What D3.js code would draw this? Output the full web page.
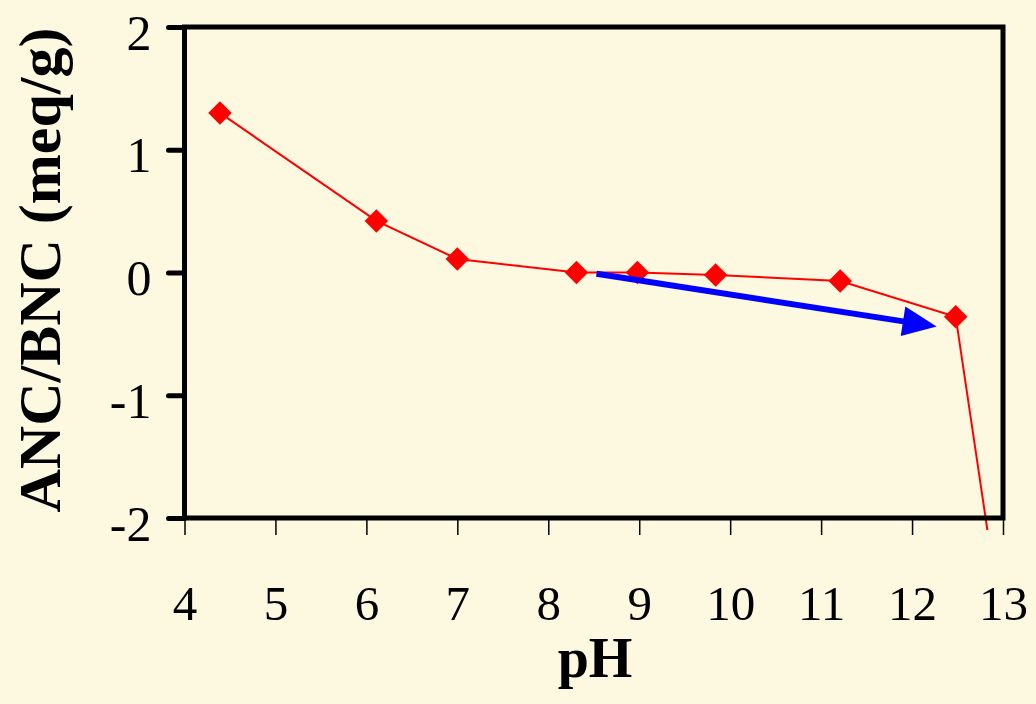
<!DOCTYPE html>
<html>
<head>
<meta charset="utf-8">
<script src="https://cdn.jsdelivr.net/npm/d3@7"></script>
<style>
  body { margin: 0; background: #fdf8e0; }
  text { font-family: "Liberation Serif", "Times New Roman", serif; }
</style>
</head>
<body>
<div id="chart-area"></div>
<script>
// data
var phValues  = [4.39, 6.11, 7.0, 8.31, 8.98, 9.84, 11.21, 12.48];
var ancValues = [1.30, 0.42, 0.11, 0.0, 0.0, -0.02, -0.07, -0.36];
// the curve keeps going down out of the frame, no marker shown there
var tailPoint = [13.2, -3.95];
var xTicks = [4, 5, 6, 7, 8, 9, 10, 11, 12, 13];
var yTicks = [2, 1, 0, -1, -2];
// blue arrow, in data units: start and tip
var arrowFrom = [8.53, -0.01];
var arrowTo   = [12.27, -0.44];

var W = 1036, H = 704;
var margin = { top: 27, bottom: 186, left: 184.5, right: 33 };
var width = W - margin.left - margin.right;
var height = H - margin.top - margin.bottom;

var svg = d3.select("#chart-area").append("svg")
    .attr("width", W)
    .attr("height", H);

svg.append("rect")
    .attr("width", W).attr("height", H)
    .attr("fill", "#fdf8e0");

var g = svg.append("g")
    .attr("transform", "translate(" + margin.left + " " + margin.top + ")");

var x = d3.scaleLinear().domain([4, 13]).range([0, width]);
var y = d3.scaleLinear().domain([-2, 2]).range([height, 0]);

// plain hyphen for negatives, like the original
var fmt = function(d) { return String(d); };

// x ticks (thin, below the frame)
var xAxis = g.append("g")
    .attr("transform", "translate(0 " + height + ")")
    .call(d3.axisBottom(x).tickValues(xTicks).tickSize(17).tickPadding(0).tickFormat(fmt));
xAxis.select(".domain").remove();
xAxis.selectAll(".tick line").attr("stroke", "#000").attr("stroke-width", 1.5);
xAxis.selectAll(".tick text")
    .attr("y", 102)
    .attr("dy", null)
    .attr("fill", "#000")
    .style("font-size", "49px")
    .style("font-family", "'Liberation Serif', serif");

// y ticks (thick)
var yAxis = g.append("g")
    .call(d3.axisLeft(y).tickValues(yTicks).tickSize(16).tickPadding(17).tickFormat(fmt));
yAxis.select(".domain").remove();
yAxis.selectAll(".tick line")
    .attr("stroke", "#000").attr("stroke-width", 5).attr("stroke-linecap", "round");
yAxis.selectAll(".tick text")
    .attr("dy", null)
    .attr("y", 22)
    .attr("fill", "#000")
    .style("font-size", "50px")
    .style("font-family", "'Liberation Serif', serif");

// the curve, clipped a little below the frame
svg.append("clipPath").attr("id", "clip")
    .append("rect")
    .attr("x", 0).attr("y", -10)
    .attr("width", width).attr("height", height + 22);

var pts = phValues.map(function(d, i) { return [d, ancValues[i]]; });
var line = d3.line()
    .x(function(d) { return x(d[0]); })
    .y(function(d) { return y(d[1]); });

g.append("path")
    .datum(pts.concat([tailPoint]))
    .attr("clip-path", "url(#clip)")
    .attr("fill", "none")
    .attr("stroke", "#ff0000")
    .attr("stroke-width", 2)
    .attr("d", line);

// frame
g.append("rect")
    .attr("width", width).attr("height", height)
    .attr("fill", "none")
    .attr("stroke", "#000")
    .attr("stroke-width", 5);

// markers
g.selectAll(".pt")
    .data(pts).enter()
    .append("rect")
        .attr("class", "pt")
        .attr("x", -8.3).attr("y", -8.3)
        .attr("width", 16.6).attr("height", 16.6)
        .attr("fill", "#ff0000")
        .attr("transform", function(d) {
            return "translate(" + x(d[0]) + " " + y(d[1]) + ") rotate(45)";
        });

// blue arrow
var ax0 = x(arrowFrom[0]), ay0 = y(arrowFrom[1]);
var ax1 = x(arrowTo[0]), ay1 = y(arrowTo[1]);
var ang = Math.atan2(ay1 - ay0, ax1 - ax0);
var len = Math.sqrt((ax1 - ax0) * (ax1 - ax0) + (ay1 - ay0) * (ay1 - ay0));
var headLen = 34, headHalf = 15;
var arrow = g.append("g")
    .attr("transform", "translate(" + ax0 + " " + ay0 + ") rotate(" + (ang * 180 / Math.PI) + ")");
arrow.append("line")
    .attr("x1", 0).attr("y1", 0)
    .attr("x2", len - headLen + 2).attr("y2", 0)
    .attr("stroke", "#0000ff")
    .attr("stroke-width", 6);
arrow.append("path")
    .attr("d", "M" + len + ",0L" + (len - headLen) + "," + (-headHalf) + "L" + (len - headLen) + "," + headHalf + "Z")
    .attr("fill", "#0000ff");

// axis titles
svg.append("text")
    .attr("x", 595)
    .attr("y", 677)
    .attr("text-anchor", "middle")
    .style("font-size", "56px")
    .attr("font-weight", "bold")
    .text("pH");

svg.append("text")
    .attr("transform", "translate(60 270) rotate(-90)")
    .attr("text-anchor", "middle")
    .style("font-size", "60px")
    .attr("font-weight", "bold")
    .text("ANC/BNC (meq/g)");
</script>
</body>
</html>
